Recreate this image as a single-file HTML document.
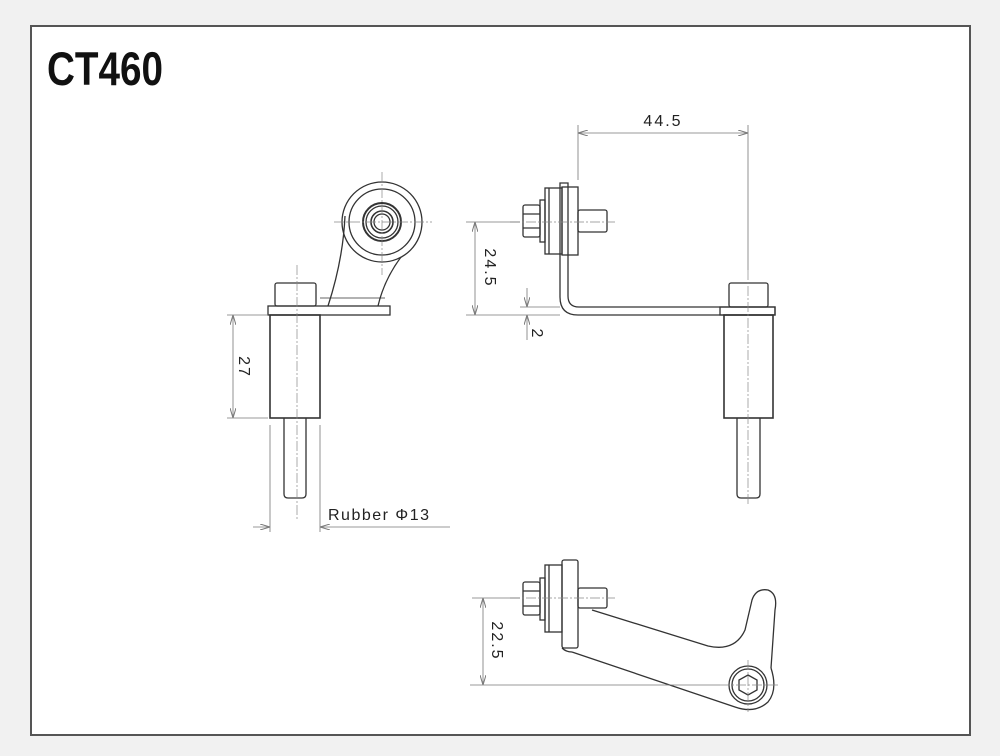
<!DOCTYPE html>
<html><head><meta charset="utf-8"><style>
html,body{margin:0;padding:0;background:#f1f1f1;}
svg{display:block}
text{font-family:"Liberation Sans",sans-serif;fill:#222}
</style></head><body>
<svg width="1000" height="756" viewBox="0 0 1000 756" xmlns="http://www.w3.org/2000/svg">
<defs>
<marker id="a" viewBox="0 0 10 6" refX="10" refY="3" markerWidth="10" markerHeight="6" orient="auto-start-reverse" markerUnits="userSpaceOnUse"><path d="M0,0 L10,3 L0,6" fill="none" stroke="#777" stroke-width="1"/></marker>
</defs>
<rect x="31" y="26" width="939" height="709" fill="#fff" stroke="#555" stroke-width="2"/>
<text x="47" y="85" font-size="47" font-weight="bold" textLength="116" lengthAdjust="spacingAndGlyphs" style="font-family:'Liberation Sans Narrow','Liberation Sans',sans-serif;fill:#111">CT460</text>

<g fill="none" stroke="#333" stroke-width="1.3">
<!-- LEFT VIEW -->
<circle cx="382" cy="222" r="40"/>
<circle cx="382" cy="222" r="33"/>
<circle cx="382" cy="222" r="19" stroke-width="2"/>
<circle cx="382" cy="222" r="16"/>
<circle cx="382" cy="222" r="11" stroke-width="1.6"/>
<circle cx="382" cy="222" r="8"/>
<path d="M345,216 Q343,260 328,306"/>
<path d="M401,257 Q384,280 378,306"/>
<line x1="320" y1="298" x2="385" y2="298" stroke-width="0.8"/>
<rect x="268" y="306" width="122" height="9"/>
<rect x="275" y="283" width="41" height="23" rx="2"/>
<rect x="270" y="315" width="50" height="103" stroke-width="1.6"/>
<path d="M284,418 V494 Q284,498 288,498 H302 Q306,498 306,494 V418"/>
<!-- RIGHT VIEW -->
<path d="M560,183 H568 V296 Q568,307 579,307 H775 V315 H578 Q560,315 560,297 Z"/>
<rect x="562" y="187" width="16" height="68"/>
<rect x="545" y="188" width="17" height="66"/>
<line x1="549" y1="188" x2="549" y2="254"/>
<rect x="540" y="200" width="5" height="42"/>
<rect x="523" y="205" width="17" height="32" rx="2"/>
<line x1="523" y1="214" x2="540" y2="214"/><line x1="523" y1="228" x2="540" y2="228"/>
<rect x="578" y="210" width="29" height="22" rx="2"/>
<rect x="729" y="283" width="39" height="24" rx="2"/>
<rect x="720" y="307" width="55" height="8"/>
<rect x="724" y="315" width="49" height="103" stroke-width="1.6"/>
<path d="M737,418 V494 Q737,498 741,498 H756 Q760,498 760,494 V418"/>
<!-- BOTTOM VIEW -->
<rect x="562" y="560" width="16" height="88" rx="2"/>
<rect x="545" y="565" width="17" height="67"/>
<line x1="549" y1="565" x2="549" y2="632"/>
<rect x="540" y="578" width="5" height="42"/>
<rect x="523" y="582" width="17" height="33" rx="2"/>
<line x1="523" y1="591" x2="540" y2="591"/><line x1="523" y1="606" x2="540" y2="606"/>
<rect x="578" y="588" width="29" height="20" rx="2"/>
<path d="M592,610 L708,646 Q735,652 745,630 L752,600 Q756,588 768,590 Q778,594 775,610 L771,668"/>
<path d="M771,668 Q778,690 768,702 Q755,714 735,707 L572,652"/>
<path d="M562,648 Q566,652 572,652"/>
<circle cx="748" cy="685" r="19"/>
<circle cx="748" cy="685" r="16"/>
<polygon points="748,675 757,680 757,690 748,695 739,690 739,680"/>
</g>

<!-- centre lines -->
<g stroke="#888" stroke-width="0.7" stroke-dasharray="10,2,2,2" fill="none">
<line x1="382" y1="172" x2="382" y2="275"/><line x1="334" y1="222" x2="432" y2="222"/>
<line x1="297" y1="265" x2="297" y2="520"/>
<line x1="748" y1="270" x2="748" y2="505"/>
<line x1="510" y1="222" x2="615" y2="222"/>
<line x1="510" y1="598" x2="615" y2="598"/>
<line x1="748" y1="660" x2="748" y2="712"/><line x1="720" y1="685" x2="780" y2="685"/>
</g>

<!-- dimensions -->
<g stroke="#777" stroke-width="0.8" fill="none">
<line x1="227" y1="315" x2="268" y2="315"/><line x1="227" y1="418" x2="268" y2="418"/>
<line x1="233" y1="315" x2="233" y2="418" marker-start="url(#a)" marker-end="url(#a)"/>
<line x1="270" y1="425" x2="270" y2="532"/><line x1="320" y1="425" x2="320" y2="532"/>
<line x1="253" y1="527" x2="270" y2="527" marker-end="url(#a)"/>
<line x1="450" y1="527" x2="320" y2="527" marker-end="url(#a)"/>
<line x1="578" y1="125" x2="578" y2="180"/><line x1="748" y1="125" x2="748" y2="270"/>
<line x1="578" y1="133" x2="748" y2="133" marker-start="url(#a)" marker-end="url(#a)"/>
<line x1="466" y1="222" x2="520" y2="222"/><line x1="466" y1="315" x2="560" y2="315"/>
<line x1="520" y1="307" x2="560" y2="307"/>
<line x1="475" y1="222" x2="475" y2="315" marker-start="url(#a)" marker-end="url(#a)"/>
<line x1="527" y1="288" x2="527" y2="307" marker-end="url(#a)"/>
<line x1="527" y1="340" x2="527" y2="315" marker-end="url(#a)"/>
<line x1="472" y1="598" x2="520" y2="598"/><line x1="470" y1="685" x2="720" y2="685"/>
<line x1="483" y1="598" x2="483" y2="685" marker-start="url(#a)" marker-end="url(#a)"/>
</g>

<g font-size="16" letter-spacing="2">
<text x="243" y="367" transform="rotate(90 243 367)" text-anchor="middle" dominant-baseline="middle">27</text>
<text x="328" y="520" letter-spacing="1.5">Rubber Φ13</text>
<text x="663" y="126" text-anchor="middle">44.5</text>
<text x="489" y="268" transform="rotate(90 489 268)" text-anchor="middle" dominant-baseline="middle">24.5</text>
<text x="536" y="334" transform="rotate(90 536 334)" text-anchor="middle" dominant-baseline="middle">2</text>
<text x="496" y="641" transform="rotate(90 496 641)" text-anchor="middle" dominant-baseline="middle">22.5</text>
</g>
</svg>
</body></html>
